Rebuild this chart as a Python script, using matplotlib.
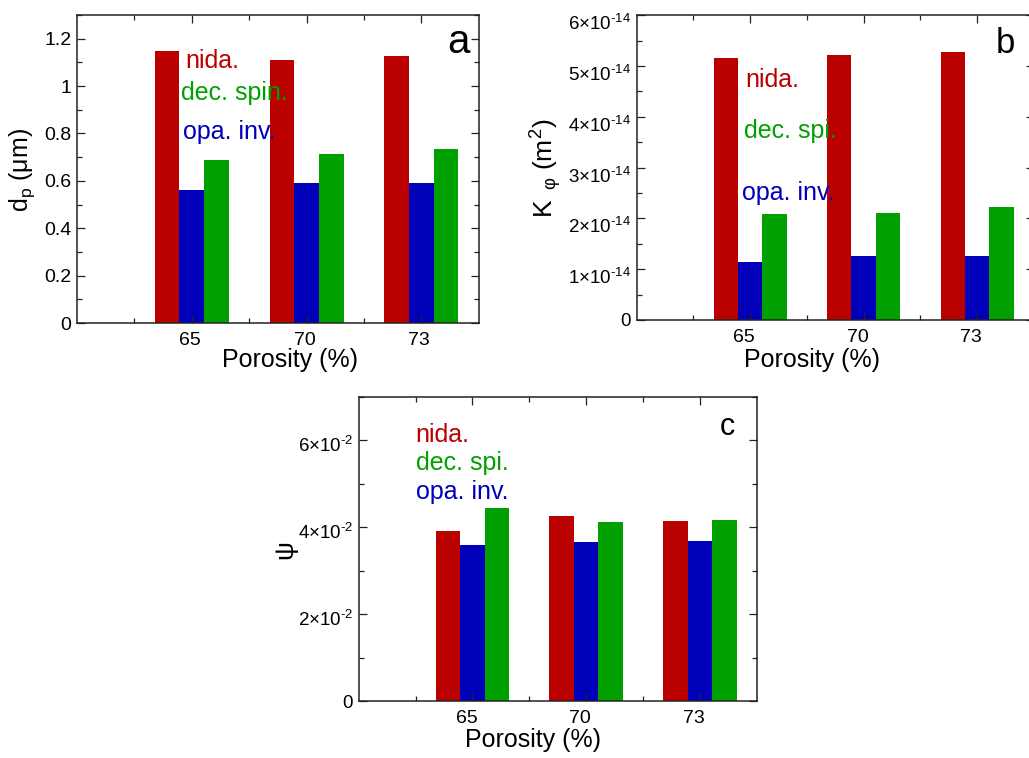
import matplotlib
matplotlib.use("Agg")
import matplotlib.pyplot as plt
from matplotlib.ticker import MultipleLocator, FixedLocator, FuncFormatter
import matplotlib.transforms as mtransforms
import numpy as np

plt.rcParams['font.family'] = ['Liberation Sans', 'DejaVu Sans']
plt.rcParams['mathtext.fontset'] = 'custom'
plt.rcParams['mathtext.rm'] = 'Liberation Sans'
plt.rcParams['mathtext.it'] = 'Liberation Sans:italic'
plt.rcParams['mathtext.sf'] = 'Liberation Sans'

# ---------------- data ----------------
categories = ['65', '70', '73']
series_names = ['nida.', 'opa. inv.', 'dec. spi.']

a_nida = [1.150, 1.111, 1.129]
a_opa = [0.561, 0.593, 0.589]
a_dec = [0.686, 0.713, 0.733]

b_nida = [5.15e-14, 5.22e-14, 5.27e-14]
b_opa = [1.14e-14, 1.27e-14, 1.27e-14]
b_dec = [2.08e-14, 2.10e-14, 2.23e-14]

c_nida = [0.0392, 0.0426, 0.0415]
c_opa = [0.0358, 0.0365, 0.0369]
c_dec = [0.0444, 0.0411, 0.0416]

RED = '#bb0000'
BLUE = '#0000bb'
GREEN = '#00a000'
SPINE = '#222222'

W, H = 1029, 758
fig = plt.figure(figsize=(W / 100, H / 100), dpi=100)


def px_axes(l, t, r, b):
    return fig.add_axes([l / W, 1 - b / H, (r - l) / W, (b - t) / H])


def ftext(x, y, s, **kw):
    fig.text(x / W, 1 - y / H, s, **kw)


def shift_labels(labels, dx, dy, skip_zero=False):
    off = mtransforms.ScaledTranslation(dx / 100, -dy / 100, fig.dpi_scale_trans)
    for lab in labels:
        if skip_zero and lab.get_text() == '0':
            continue
        lab.set_transform(lab.get_transform() + off)


def style(ax, ymax, ymajor, yminor, yfmt, ysize, xlab_dx, ylab_dy):
    ax.set_xlim(0, 3.5)
    ax.set_ylim(0, ymax)
    ax.xaxis.set_major_locator(FixedLocator([1, 2, 3]))
    ax.xaxis.set_minor_locator(FixedLocator([0.5, 1.5, 2.5]))
    ax.set_xticklabels(categories)
    ax.yaxis.set_major_locator(MultipleLocator(ymajor))
    ax.yaxis.set_minor_locator(MultipleLocator(yminor))
    ax.yaxis.set_major_formatter(FuncFormatter(yfmt))
    ax.tick_params(which='both', direction='in', top=True, right=True,
                   color=SPINE, width=0.9)
    ax.tick_params(which='major', length=6)
    ax.tick_params(which='minor', length=3.6)
    ax.tick_params(axis='x', which='major', labelsize=14, pad=6.5)
    ax.tick_params(axis='y', which='major', labelsize=ysize, pad=4)
    for sp in ax.spines.values():
        sp.set_color(SPINE)
        sp.set_linewidth(1.1)
    fig.canvas.draw()
    shift_labels(ax.get_xticklabels(), xlab_dx, 0)
    shift_labels(ax.get_yticklabels(), 0, ylab_dy, skip_zero=True)


def bars(ax, nida, opa, dec):
    x = np.arange(1, len(categories) + 1)
    w = 0.215
    ax.bar(x - w, nida, w, color=RED, zorder=1)
    ax.bar(x, opa, w, color=BLUE, zorder=1)
    ax.bar(x + w, dec, w, color=GREEN, zorder=1)


LBL = 18

# ---------------- panel a ----------------
axa = px_axes(77, 15, 478.7, 323)
bars(axa, a_nida, a_opa, a_dec)
style(axa, 1.3, 0.2, 0.1,
      lambda v, p: '0' if abs(v) < 1e-9 else ('%g' % round(v, 2)), 14, -2, 0)
ftext(185.7, 67.5, 'nida.', color=RED, fontsize=LBL, va='baseline')
ftext(181, 100, 'dec. spin.', color=GREEN, fontsize=LBL, va='baseline')
ftext(183, 139.3, 'opa. inv.', color=BLUE, fontsize=LBL, va='baseline')
ftext(447, 53, 'a', fontsize=29, va='baseline')
ftext(22, 170, r'd$_\mathregular{p}$ (μm)', fontsize=18, rotation=90,
      ha='center', va='center')
ftext(290, 367, 'Porosity (%)', fontsize=18, ha='center', va='baseline')

# ---------------- panel b ----------------
axb = px_axes(636.7, 15.3, 636.7 + 3.5 * 113.5, 320)
bars(axb, b_nida, b_opa, b_dec)
style(axb, 6e-14, 1e-14, 0.5e-14,
      lambda v, p: '0' if abs(v) < 1e-20 else
      r'$\mathregular{%d{\times}10}^{\mathregular{‐14}}$' % int(round(v * 1e14)),
      13.5, -6, 7)
ftext(745, 87, 'nida.', color=RED, fontsize=LBL, va='baseline')
ftext(744, 138.3, 'dec. spi.', color=GREEN, fontsize=LBL, va='baseline')
ftext(741.7, 200, 'opa. inv.', color=BLUE, fontsize=LBL, va='baseline')
ftext(996, 53, 'b', fontsize=25, va='baseline')
ftext(546, 168, r'K$_{\mathregular{\ \ φ}}$ (m$^\mathregular{2}$)', fontsize=19,
      rotation=90, ha='center', va='center')
ftext(811.7, 367, 'Porosity (%)', fontsize=18, ha='center', va='baseline')

# ---------------- panel c ----------------
axc = px_axes(358.7, 396.7, 756.7, 701)
bars(axc, c_nida, c_opa, c_dec)
style(axc, 0.07, 0.02, 0.01,
      lambda v, p: '0' if abs(v) < 1e-9 else
      r'$\mathregular{%d{\times}10}^{\mathregular{‐2}}$' % int(round(v * 100)),
      13.5, -6, 4)
ftext(415.7, 441.7, 'nida.', color=RED, fontsize=LBL, va='baseline')
ftext(415.7, 470, 'dec. spi.', color=GREEN, fontsize=LBL, va='baseline')
ftext(415.7, 499.3, 'opa. inv.', color=BLUE, fontsize=LBL, va='baseline')
ftext(719.5, 435, 'c', fontsize=22, va='baseline')
ftext(285, 550, 'ψ', fontsize=19, rotation=90, ha='center', va='center')
ftext(533, 747, 'Porosity (%)', fontsize=18, ha='center', va='baseline')

fig.savefig('out.png', dpi=100)
